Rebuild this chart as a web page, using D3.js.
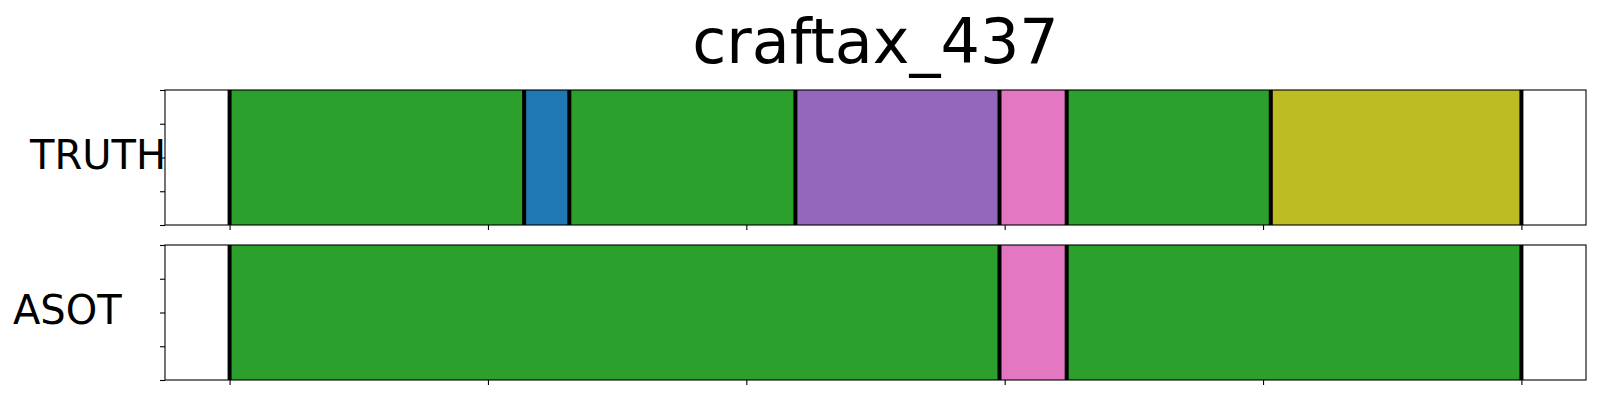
<!DOCTYPE html>
<html>
<head>
<meta charset="utf-8">
<script src="https://cdn.jsdelivr.net/npm/d3@7"></script>
<style>
  html, body { margin: 0; padding: 0; background: #fff; }
  svg { display: block; }
  text { font-family: "DejaVu Sans", sans-serif; fill: #000; }
</style>
</head>
<body>
<svg id="chart" width="1600" height="400"></svg>
<script>
// ---- data ----
const title = "craftax_437";
const rowNames = ["TRUTH", "ASOT"];
// segment boundaries (frames) and action ids (tab10 index) per row
const truthBounds = [0, 114, 131.5, 219, 298, 324, 403, 500];
const truthActions = [2, 0, 2, 4, 6, 2, 8];
const asotBounds = [0, 298, 324, 500];
const asotActions = [2, 6, 2];
const xTicks = [0, 100, 200, 300, 400, 500];
const yTicks = [0, 0.25, 0.5, 0.75, 1];
const nFrames = 500;

// ---- layout ----
const svg = d3.select("#chart");
const left = 165, right = 1586;
const panels = [
  { name: rowNames[0], bounds: truthBounds, actions: truthActions, top: 90, bottom: 225, labelX: 30, labelY: 168.5 },
  { name: rowNames[1], bounds: asotBounds, actions: asotActions, top: 245, bottom: 380, labelX: 13, labelY: 323.5 }
];
const color = i => d3.schemeCategory10[i];
const margin = nFrames * 0.05;
const x = d3.scaleLinear().domain([-margin, nFrames + margin]).range([left, right]);

svg.append("text")
  .attr("x", (left + right) / 2).attr("y", 63)
  .attr("text-anchor", "middle")
  .style("font-size", "62px")
  .text(title);

panels.forEach(p => {
  const y = d3.scaleLinear().domain([0, 1]).range([p.bottom, p.top]);
  const g = svg.append("g");
  const segs = p.actions.map((a, i) => ({ a, s: p.bounds[i], e: p.bounds[i + 1] }));
  g.selectAll("rect.seg").data(segs).enter().append("rect")
    .attr("class", "seg")
    .attr("x", d => x(d.s)).attr("width", d => x(d.e) - x(d.s))
    .attr("y", y(1)).attr("height", y(0) - y(1))
    .attr("fill", d => color(d.a));
  g.selectAll("line.bd").data(p.bounds).enter().append("line")
    .attr("class", "bd")
    .attr("x1", d => x(d)).attr("x2", d => x(d))
    .attr("y1", y(1)).attr("y2", y(0))
    .attr("stroke", "#000").attr("stroke-width", 4);

  const xAxis = d3.axisBottom(x).tickValues(xTicks).tickSize(5).tickFormat("");
  const gx = g.append("g").attr("transform", `translate(0,${p.bottom})`).call(xAxis);
  gx.select(".domain").remove();
  gx.selectAll("line").attr("stroke-width", 1.1);

  const yAxis = d3.axisLeft(y).tickValues(yTicks).tickSize(5).tickFormat("");
  const gy = g.append("g").attr("transform", `translate(${left},0)`).call(yAxis);
  gy.select(".domain").remove();
  gy.selectAll("line").attr("stroke-width", 1.1);

  g.append("rect")
    .attr("x", left).attr("y", p.top)
    .attr("width", right - left).attr("height", p.bottom - p.top)
    .attr("fill", "none").attr("stroke", "#000").attr("stroke-width", 1.1);

  svg.append("text")
    .attr("x", p.labelX).attr("y", p.labelY)
    .style("font-size", "40px")
    .text(p.name);
});
</script>
</body>
</html>
